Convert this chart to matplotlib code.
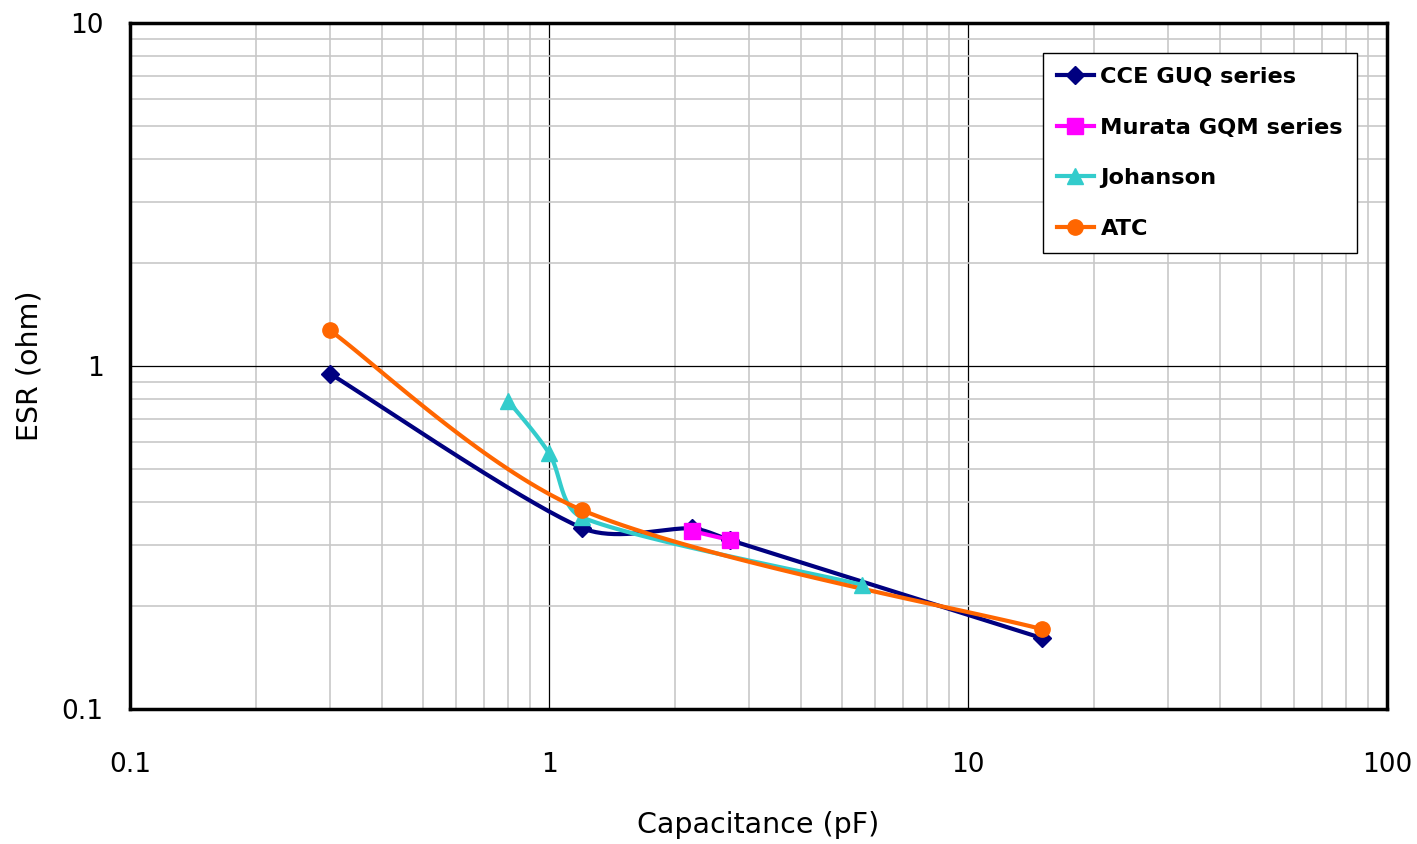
import numpy as np
import matplotlib
matplotlib.use("Agg")
import matplotlib.pyplot as plt
from matplotlib.ticker import LogLocator, NullFormatter, FixedLocator, FixedFormatter

# values (capacitance in pF, ESR in ohm)
cce_c = [0.3, 1.2, 2.2, 2.7, 15]
cce_esr = [0.95, 0.337, 0.336, 0.311, 0.161]

murata_c = [2.2, 2.7]
murata_esr = [0.330, 0.311]

johanson_c = [0.8, 1.0, 1.2, 5.6]
johanson_esr = [0.79, 0.557, 0.362, 0.23]

atc_c = [0.3, 1.2, 15]
atc_esr = [1.27, 0.380, 0.171]

series_names = ["CCE GUQ series", "Murata GQM series", "Johanson", "ATC"]
tick_vals_x = [0.1, 1, 10, 100]
tick_labels_x = ["0.1", "1", "10", "100"]
tick_vals_y = [0.1, 1, 10]
tick_labels_y = ["0.1", "1", "10"]

# pixels per decade on the chart, used so the smoothing works in screen space
XDEC = 419.0
YDEC = 343.0


def ctrlPoint(pa, pb, seglen):
    # control offset along (pb - pa), limited so it can't loop back
    d = pb - pa
    n = np.hypot(d[0], d[1])
    if n == 0:
        return np.zeros(2)
    length = min(n / 6.0, seglen / 3.0)
    return d / n * length


def smoothLine(xs, ys, n=40):
    # Excel style smoothed line: cubic bezier through the points
    px = np.log10(np.array(xs, dtype=float)) * XDEC
    py = np.log10(np.array(ys, dtype=float)) * YDEC
    pts = np.column_stack([px, py])
    if len(pts) < 3:
        return xs, ys
    ext = np.vstack([pts[0], pts, pts[-1]])
    out = [pts[0]]
    for i in range(len(pts) - 1):
        p0, p1, p2, p3 = ext[i], ext[i + 1], ext[i + 2], ext[i + 3]
        seglen = np.hypot(*(p2 - p1))
        c1 = p1 + ctrlPoint(p0, p2, seglen)
        c2 = p2 - ctrlPoint(p1, p3, seglen)
        t = np.linspace(0, 1, n)[1:, None]
        seg = ((1 - t) ** 3) * p1 + 3 * ((1 - t) ** 2) * t * c1 + 3 * (1 - t) * t ** 2 * c2 + t ** 3 * p2
        out.extend(seg)
    out = np.array(out)
    return 10 ** (out[:, 0] / XDEC), 10 ** (out[:, 1] / YDEC)


def drawSeries(ax, xs, ys, color, marker, ms, label):
    sx, sy = smoothLine(xs, ys)
    ax.plot(sx, sy, color=color, lw=3, solid_capstyle="round", zorder=3)
    ax.plot(xs, ys, ls="none", marker=marker, ms=ms, color=color, zorder=4)
    # legend proxy
    ax.plot([], [], color=color, lw=3, marker=marker, ms=ms, label=label)


def main():
    plt.rcParams['font.family'] = ['DejaVu Sans']
    fig = plt.figure(figsize=(14.17, 8.44), dpi=100)
    ax = fig.add_axes([130 / 1417, 1 - 709 / 844, (1387 - 130) / 1417, (709 - 23) / 844])

    ax.set_xscale("log")
    ax.set_yscale("log")
    ax.set_xlim(0.1, 100)
    ax.set_ylim(0.1, 10)

    drawSeries(ax, cce_c, cce_esr, "#000080", "D", 9.5, series_names[0])
    drawSeries(ax, murata_c, murata_esr, "#ff00ff", "s", 11, series_names[1])
    drawSeries(ax, johanson_c, johanson_esr, "#33cccc", "^", 12, series_names[2])
    drawSeries(ax, atc_c, atc_esr, "#ff6600", "o", 11, series_names[3])

    ax.xaxis.set_major_locator(FixedLocator(tick_vals_x))
    ax.xaxis.set_major_formatter(FixedFormatter(tick_labels_x))
    ax.yaxis.set_major_locator(FixedLocator(tick_vals_y))
    ax.yaxis.set_major_formatter(FixedFormatter(tick_labels_y))
    ax.xaxis.set_minor_locator(LogLocator(base=10, subs=np.arange(2, 10)))
    ax.yaxis.set_minor_locator(LogLocator(base=10, subs=np.arange(2, 10)))
    ax.xaxis.set_minor_formatter(NullFormatter())
    ax.yaxis.set_minor_formatter(NullFormatter())

    ax.grid(which="minor", color="#c8c8c8", lw=1.2, zorder=0)
    ax.grid(which="major", color="black", lw=0.9, zorder=1)
    ax.set_axisbelow(True)
    ax.tick_params(which="both", length=0, labelsize=19)
    ax.tick_params(axis="x", pad=31)
    ax.tick_params(axis="y", pad=19)

    for sp in ax.spines.values():
        sp.set_linewidth(2.5)
        sp.set_zorder(5)

    ax.set_xlabel("Capacitance (pF)", fontsize=20.5, labelpad=24)
    ax.set_ylabel("ESR (ohm)", fontsize=20.5, labelpad=13)

    leg = ax.legend(loc="upper right", bbox_to_anchor=(1357 / 1417, 1 - 53 / 844),
                    bbox_transform=fig.transFigure, fancybox=False, framealpha=1,
                    edgecolor="black", prop={"weight": "bold", "size": 16.2},
                    handlelength=1.65, handletextpad=0.3, labelspacing=1.36,
                    borderpad=0.62, borderaxespad=0)
    leg.get_frame().set_linewidth(1.0)
    leg.set_zorder(6)

    fig.savefig("out.png", dpi=100)


if __name__ == '__main__':
    main()
